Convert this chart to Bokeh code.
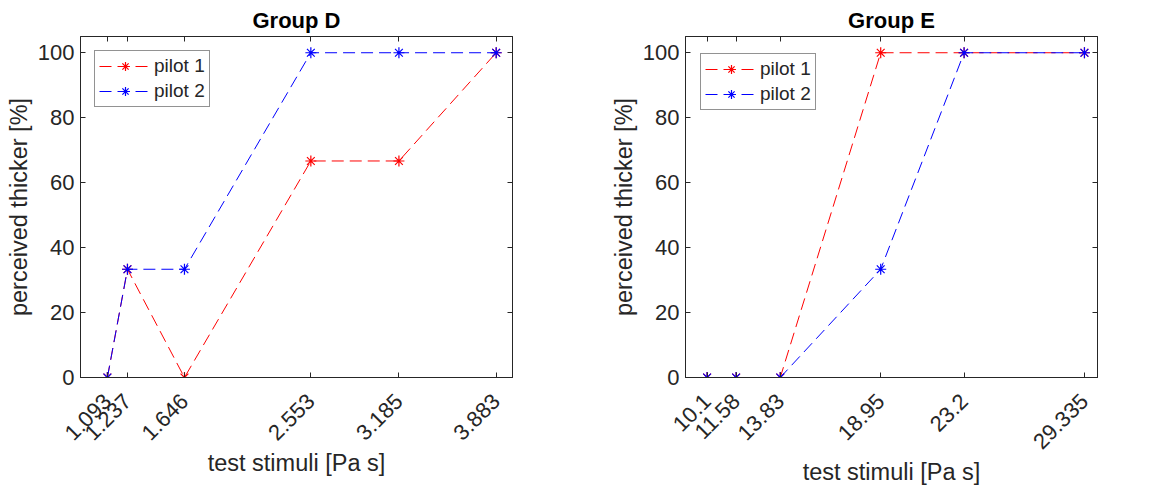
import math
from bokeh.plotting import figure
from bokeh.layouts import row
from bokeh.models import Range1d, FixedTicker, LinearAxis, Legend, LegendItem
from bokeh.embed import file_html
from bokeh.resources import INLINE

# ---- data ----
d_x = [1.093, 1.237, 1.646, 2.553, 3.185, 3.883]
d_labels = ["1.093", "1.237", "1.646", "2.553", "3.185", "3.883"]
d_pilot1 = [0, 33.33, 0, 66.67, 66.67, 100]
d_pilot2 = [0, 33.33, 33.33, 100, 100, 100]

e_x = [10.1, 11.58, 13.83, 18.95, 23.2, 29.335]
e_labels = ["10.1", "11.58", "13.83", "18.95", "23.2", "29.335"]
e_pilot1 = [0, 0, 0, 100, 100, 100]
e_pilot2 = [0, 0, 0, 33.33, 100, 100]

y_ticks = [0, 20, 40, 60, 80, 100]

FONT = "Liberation Sans"
DARK = "#262626"
RED = "#ff0000"
BLUE = "#0000ff"


def make_panel(title, xs, labels, p1, p2, xr, width, bl, br, legend_loc):
    p = figure(width=width, height=487, output_backend="svg", toolbar_location=None,
               x_range=Range1d(*xr), y_range=Range1d(0, 105),
               min_border_left=bl, min_border_right=br, min_border_top=36,
               min_border_bottom=110)
    p.title.text = title
    p.title.align = "center"
    p.title.text_font = FONT
    p.title.text_font_size = "22px"
    p.title.text_font_style = "bold"
    p.title.text_color = "#000000"
    p.title.standoff = 7
    p.grid.visible = False
    p.outline_line_color = DARK
    p.outline_line_alpha = 1
    p.outline_line_width = 1
    p.background_fill_color = "white"
    p.border_fill_color = "white"

    overrides = {x: l for x, l in zip(xs, labels)}
    xa = p.xaxis[0]
    xa.ticker = FixedTicker(ticks=xs)
    xa.major_label_overrides = overrides
    xa.major_label_orientation = math.pi / 4
    ya = p.yaxis[0]
    ya.ticker = FixedTicker(ticks=y_ticks)
    for ax in (xa, ya):
        ax.major_tick_in = 5
        ax.major_tick_out = 0
        ax.minor_tick_line_color = None
        ax.axis_line_color = DARK
        ax.major_tick_line_color = DARK
        ax.major_label_text_font = FONT
        ax.major_label_text_font_size = "22px"
        ax.major_label_text_color = DARK
        ax.axis_label_text_font = FONT
        ax.axis_label_text_font_size = "23.5px"
        ax.axis_label_text_font_style = "normal"
        ax.axis_label_text_color = DARK
    xa.axis_label = "test stimuli [Pa s]"
    ya.axis_label = "perceived thicker [%]"
    xa.major_label_standoff = 20
    ya.major_label_standoff = 6
    ya.axis_label_standoff = 3
    xa.axis_label_standoff = 0

    top = LinearAxis(ticker=FixedTicker(ticks=xs), major_tick_in=5, major_tick_out=0,
                     minor_tick_line_color=None, major_label_text_font_size="0px",
                     major_label_standoff=0, axis_line_color=DARK, major_tick_line_color=DARK)
    right = LinearAxis(ticker=FixedTicker(ticks=y_ticks), major_tick_in=5, major_tick_out=0,
                       minor_tick_line_color=None, major_label_text_font_size="0px",
                       major_label_standoff=0, axis_line_color=DARK, major_tick_line_color=DARK)
    p.add_layout(top, "above")
    p.add_layout(right, "right")

    l1 = p.line(xs, p1, line_color=RED, line_width=1, line_dash="12 6")
    m1 = p.scatter(xs, p1, marker="asterisk", size=11, line_color=RED, line_width=1.2)
    l2 = p.line(xs, p2, line_color=BLUE, line_width=1, line_dash="12 6")
    m2 = p.scatter(xs, p2, marker="asterisk", size=11, line_color=BLUE, line_width=1.2)

    legend = Legend(items=[LegendItem(label="pilot 1", renderers=[l1, m1]),
                           LegendItem(label="pilot 2", renderers=[l2, m2])],
                    location=legend_loc)
    legend.label_text_font = FONT
    legend.label_text_font_size = "19px"
    legend.label_text_color = DARK
    legend.glyph_width = 52
    legend.glyph_height = 22
    legend.label_height = 22
    legend.label_standoff = 3
    legend.spacing = 3
    legend.padding = 4
    legend.margin = 0
    legend.border_line_color = DARK
    legend.border_line_width = 1
    legend.background_fill_alpha = 1
    p.add_layout(legend, "center")
    return p


pD = make_panel("Group D", d_x, d_labels, d_pilot1, d_pilot2, (0.9, 4.0), 580, 80, 68, (14, 270))
pE = make_panel("Group E", e_x, e_labels, e_pilot1, e_pilot2, (9, 30), 580, 105, 63, (15, 267))

layout = row(pD, pE)
open("out.html", "w").write(file_html(layout, INLINE))
